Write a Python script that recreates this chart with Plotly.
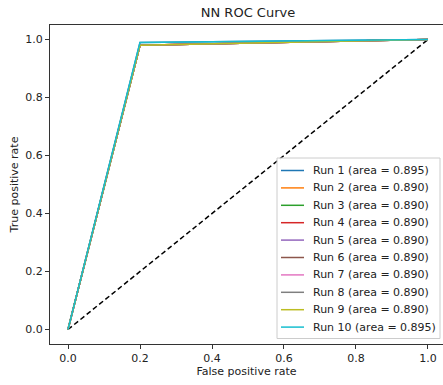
import plotly.graph_objects as go

run_names = [f"Run {i}" for i in range(1, 11)]
run_auc = [0.895, 0.890, 0.890, 0.890, 0.890, 0.890, 0.890, 0.890, 0.890, 0.895]
run_fpr = [[0.0, 0.2, 1.0]] * 10
run_tpr = [[0.0, 0.99, 1.0], [0.0, 0.98, 1.0], [0.0, 0.98, 1.0], [0.0, 0.98, 1.0],
           [0.0, 0.98, 1.0], [0.0, 0.98, 1.0], [0.0, 0.98, 1.0], [0.0, 0.98, 1.0],
           [0.0, 0.98, 1.0], [0.0, 0.99, 1.0]]
colors = ["#1f77b4", "#ff7f0e", "#2ca02c", "#d62728", "#9467bd",
          "#8c564b", "#e377c2", "#7f7f7f", "#bcbd22", "#17becf"]
diag_x = [0.0, 1.0]
diag_y = [0.0, 1.0]
tick_vals = [0.0, 0.2, 0.4, 0.6, 0.8, 1.0]
tick_text = ["0.0", "0.2", "0.4", "0.6", "0.8", "1.0"]

FONT = "DejaVu Sans"
W, H = 443, 385
ML, MR, MT, MB = 50, 0, 25, 41
PW, PH = W - ML - MR, H - MT - MB


def px_x(p):
    return (p - ML) / PW


def px_y(p):
    return (H - MB - p) / PH


fig = go.Figure()
fig.add_trace(go.Scatter(x=diag_x, y=diag_y, mode="lines", showlegend=False,
                         line=dict(color="black", width=1.5, dash="5px,3px")))
labels = []
for name, auc, fx, ty, c in zip(run_names, run_auc, run_fpr, run_tpr, colors):
    label = f"{name} (area = {auc:.3f})"
    labels.append(label)
    fig.add_trace(go.Scatter(x=fx, y=ty, mode="lines", name=label, showlegend=False,
                             line=dict(color=c, width=1.5)))

# matplotlib-style legend (compact spacing)
shapes = [dict(type="rect", xref="paper", yref="paper",
               x0=px_x(277), x1=px_x(440), y0=px_y(338.5), y1=px_y(158),
               fillcolor="rgba(255,255,255,0.8)", line=dict(color="#cccccc", width=1),
               layer="above")]
annotations = []
for i, (label, c) in enumerate(zip(labels, colors)):
    yy = 170.5 + 17.4 * i
    shapes.append(dict(type="line", xref="paper", yref="paper",
                       x0=px_x(281), x1=px_x(304), y0=px_y(yy), y1=px_y(yy),
                       line=dict(color=c, width=1.5), layer="above"))
    annotations.append(dict(text=label, xref="paper", yref="paper", x=px_x(311),
                            y=px_y(yy), xanchor="left", yanchor="middle", showarrow=False,
                            font=dict(family=FONT, size=11, color="#222")))

axis_common = dict(showgrid=False, zeroline=False, showline=True, linecolor="#333",
                   linewidth=1, ticks="outside", ticklen=4, tickcolor="#333",
                   tickvals=tick_vals, ticktext=tick_text,
                   tickfont=dict(family=FONT, size=11, color="#222"))
fig.update_layout(
    width=W, height=H,
    margin=dict(l=ML, r=MR, t=MT, b=MB),
    paper_bgcolor="white", plot_bgcolor="white",
    font=dict(family=FONT, size=11, color="#222"),
    title=dict(text="NN ROC Curve", x=(248 / 443), xanchor="center", y=1 - 12.5 / 385,
               yanchor="middle", font=dict(family=FONT, size=13, color="#222")),
    xaxis=dict(range=[-0.05, 1.0417], mirror=True, **axis_common,
               title=dict(text="False positive rate", standoff=2,
                          font=dict(family=FONT, size=11, color="#222"))),
    yaxis=dict(range=[-0.05, 1.05], mirror=False, **axis_common,
               title=dict(text="True positive rate", standoff=4,
                          font=dict(family=FONT, size=11, color="#222"))),
    shapes=shapes,
    annotations=annotations,
    showlegend=False,
)
fig.write_html("out.html")
